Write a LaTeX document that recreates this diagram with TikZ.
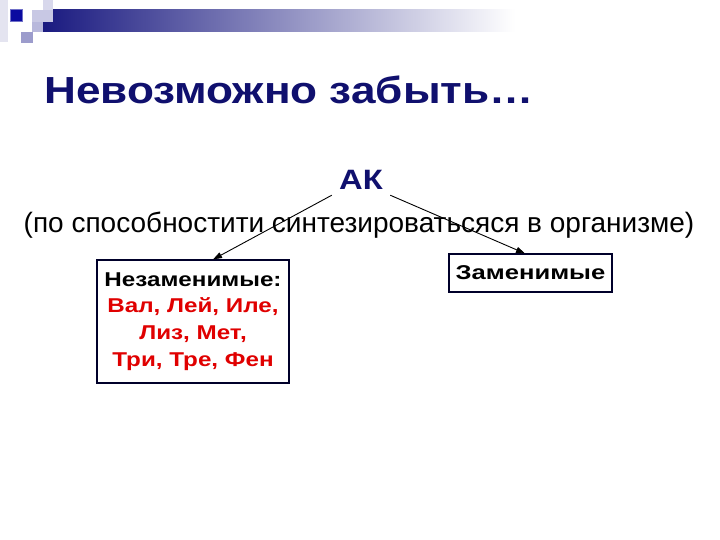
\documentclass[tikz,border=0pt]{standalone}
\usepackage{fontspec}
\setmainfont{Liberation Sans}
\newfontfamily\titlefont[FakeStretch=1.17]{Liberation Sans}
\newfontfamily\boxfont[FakeStretch=1.21]{Liberation Sans}
\newfontfamily\zfont[FakeStretch=1.28]{Liberation Sans}
\usetikzlibrary{arrows.meta}
\definecolor{navy}{HTML}{10106E}
\definecolor{redt}{HTML}{E00000}
\definecolor{boxb}{HTML}{00002A}
\definecolor{bardark}{HTML}{1A1A80}
\definecolor{lavA}{HTML}{E4E4F0}
\definecolor{lavB}{HTML}{C8C8E4}
\definecolor{lavC}{HTML}{D8D8EC}
\definecolor{lavD}{HTML}{B8B8DC}
\definecolor{lavE}{HTML}{9C9CCC}
\definecolor{sqdark}{HTML}{0A0AA0}
\definecolor{sqedge}{HTML}{7070C8}
\tikzset{
  boxnode/.style={draw=boxb, line width=1.1pt, inner sep=0pt, fill=white},
  arr/.style={draw=black, line width=0.9pt, -{Stealth[length=9pt,width=6pt,inset=0pt]}},
}
\begin{document}
\begin{tikzpicture}[x=1pt,y=-1pt]
\useasboundingbox (0,0) rectangle (720,540);
\fill[white] (0,0) rectangle (720,540);
% decoration
\fill[lavA] (0,0) rectangle (8,42);
\shade[left color=bardark, right color=white] (43,10) rectangle (515,32);
\fill[lavB] (32,10) rectangle (53,22);
\fill[lavC] (43,0) rectangle (53,10);
\fill[lavD] (32,22) rectangle (43,32);
\fill[lavE] (21,32) rectangle (33,43);
\filldraw[fill=sqdark, draw=sqedge, line width=1pt] (10,10) rectangle (22,22);
% texts
\node[font=\titlefont\fontsize{37.7}{40}\selectfont\bfseries, text=navy, anchor=base west, inner sep=0pt] (title) at (44,104) {Невозможно забыть…};
\node[font=\titlefont\fontsize{28}{30}\selectfont\bfseries, text=navy, minimum width=58pt, minimum height=30pt, inner sep=0pt] (ak) at (361,180) {АК};
\node[font=\fontsize{28}{30}\selectfont, anchor=base, inner sep=0pt] (sub) at (359,233) {(по способностити синтезироватьсяся в организме)};
\node[boxnode, minimum width=192pt, minimum height=123pt, align=center, font=\boxfont\fontsize{20}{26.7}\selectfont\bfseries] (lbox) at (193,321.5) {Незаменимые:\\ \textcolor{redt}{Вал, Лей, Иле,}\\ \textcolor{redt}{Лиз, Мет,}\\ \textcolor{redt}{Три, Тре, Фен}};
\node[boxnode, minimum width=163pt, minimum height=38pt, font=\zfont\fontsize{20}{22}\selectfont\bfseries] (rbox) at (530.5,273) {Заменимые};
% connectors
\draw[arr] (ak.south west) -- ([xshift=20pt]lbox.north);
\draw[arr] (ak.south east) -- ([xshift=-5.5pt]rbox.north);
\end{tikzpicture}
\end{document}
